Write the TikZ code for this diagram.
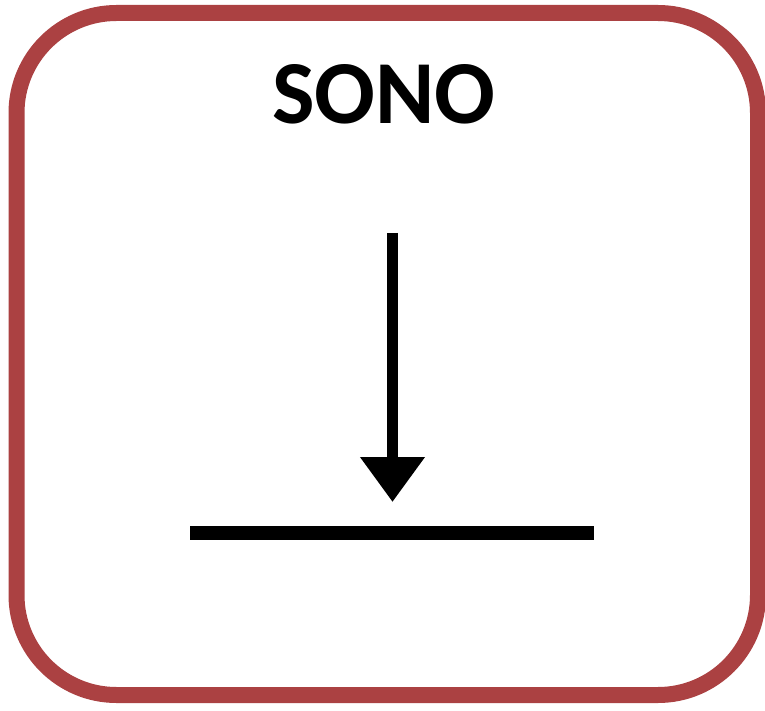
\documentclass[tikz,border=0pt]{standalone}
\usepackage{fontspec}
\setsansfont{Carlito}
\usetikzlibrary{arrows.meta}
\definecolor{framered}{RGB}{171,65,66}
\begin{document}
\begin{tikzpicture}
    [
    x=1pt,
    y=-1pt,
    frame/.style={
        draw=framered,
        line width=16pt,
        rounded corners=100pt
    },
    title/.style={
        font=\sffamily\bfseries\fontsize{90}{90}\selectfont,
        text=black,
        inner sep=0pt
    },
    downarrow/.style={-{Triangle[width=62pt,length=45pt]}, line width=11pt},
    ground/.style={line width=14pt}
    ]
    \useasboundingbox (0,0) rectangle (765,711);

% Frame
    \draw[frame] (16.5,13) rectangle (758,695);

% Title
    \node[title] (sono) at (384,94) {SONO};

% Arrow onto the line
    \coordinate (top) at (392.5,233);
    \coordinate (tip) at (392.5,502);
    \coordinate (left) at (190,532.5);
    \coordinate (right) at (594,532.5);

    \draw[downarrow] (top) -- (tip);
    \draw[ground] (left) -- (right);

\end{tikzpicture}
\end{document}
